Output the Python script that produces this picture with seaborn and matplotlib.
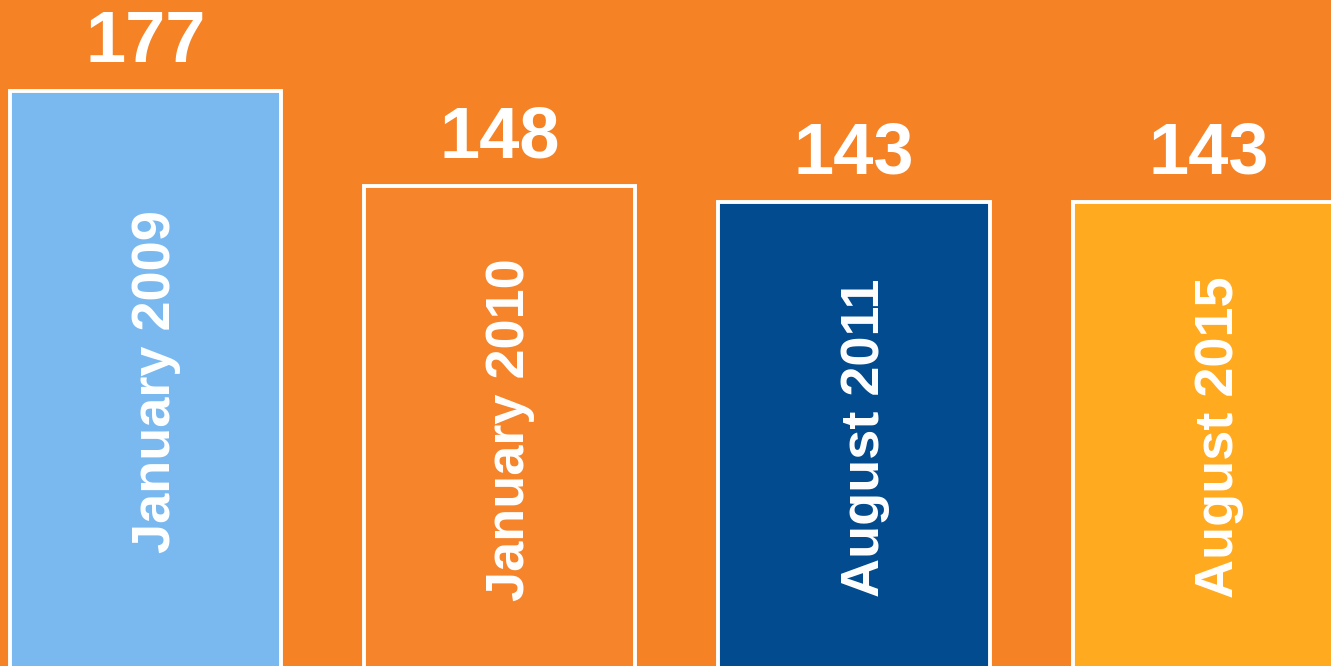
import matplotlib
matplotlib.use('Agg')
import matplotlib.pyplot as plt
import seaborn as sns
import pandas as pd

# data
PERIODS = ['January 2009', 'January 2010', 'August 2011', 'August 2015']
COUNTS = [177, 148, 143, 143]
BAR_COLORS = ['#7AB9F0', '#F5842A', '#024B8E', '#FFAA1F']
BG_COLOR = '#F58225'

Y_LOW, Y_HIGH = 1.5, 204.8


def draw_chart():
    sns.set_style('white')
    plt.rcParams['font.family'] = ['Liberation Sans', 'DejaVu Sans']

    df = pd.DataFrame({'period': PERIODS, 'count': COUNTS})

    fig = plt.figure(figsize=(13.31, 6.66), dpi=100)
    fig.patch.set_facecolor(BG_COLOR)
    ax = fig.add_axes([0, 0, 1, 1])
    ax.set_facecolor(BG_COLOR)

    sns.barplot(data=df, x='period', y='count', hue='period',
                palette=BAR_COLORS, legend=False, width=0.765,
                edgecolor='white', linewidth=2.8, saturation=1, ax=ax)

    ax.set_xlim(-0.41, 3.346)
    ax.set_ylim(Y_LOW, Y_HIGH)
    ax.axis('off')

    # numbers above bars and rotated names inside bars
    for i, (name, val) in enumerate(zip(PERIODS, COUNTS)):
        ax.annotate(str(val), xy=(i, val), xytext=(0, 10),
                    textcoords='offset points', ha='center', va='bottom',
                    fontsize=52, fontweight='bold', color='white')
        ax.text(i + 0.03, (val + Y_LOW) / 2 - 1, name, rotation=90,
                ha='center', va='center', fontsize=39,
                fontweight='bold', color='white')

    fig.savefig('out.png', dpi=100, facecolor=BG_COLOR)


if __name__ == '__main__':
    draw_chart()
